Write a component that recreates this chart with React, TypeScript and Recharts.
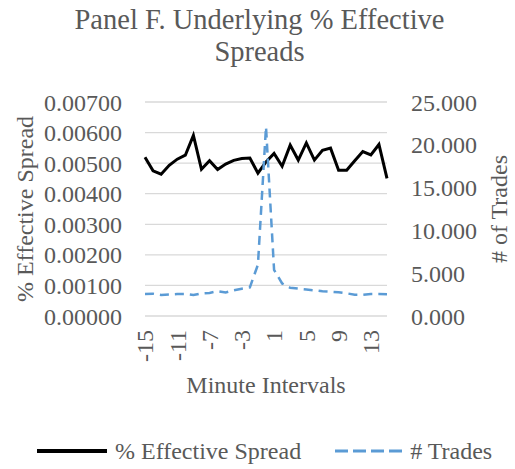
import React from "react";
import {
  CartesianGrid,
  Legend,
  Line,
  LineChart,
  XAxis,
  YAxis,
} from "recharts";

const minutes = [
  -15, -14, -13, -12, -11, -10, -9, -8, -7, -6, -5, -4, -3, -2, -1, 0, 1, 2, 3,
  4, 5, 6, 7, 8, 9, 10, 11, 12, 13, 14, 15,
];
const effectiveSpread = [
  0.00519, 0.00475, 0.00464, 0.00493, 0.00513, 0.00526, 0.00591, 0.0048,
  0.00508, 0.00479, 0.00497, 0.00509, 0.00515, 0.00517, 0.00467, 0.00504,
  0.00532, 0.0049, 0.00559, 0.0051, 0.00566, 0.0051, 0.00542, 0.00549, 0.00477,
  0.00477, 0.00508, 0.00538, 0.00527, 0.00561, 0.0045,
];
const trades = [
  2.57, 2.6, 2.45, 2.5, 2.57, 2.57, 2.45, 2.65, 2.7, 2.9, 2.75, 3.0, 3.19, 3.35,
  6.0, 22.1, 5.4, 3.8, 3.3, 3.2, 3.1, 3.0, 2.88, 2.84, 2.77, 2.65, 2.49, 2.49,
  2.57, 2.57, 2.53,
];
const xTicks = [-15, -11, -7, -3, 1, 5, 9, 13];
const leftTicks = [0, 0.001, 0.002, 0.003, 0.004, 0.005, 0.006, 0.007];
const rightTicks = [0, 5, 10, 15, 20, 25];

const data = minutes.map((m, i) => ({
  minute: m,
  spread: effectiveSpread[i],
  trades: trades[i],
}));

const font = "Liberation Serif";
const grey = "#595959";

const XTick = (props: any) => {
  const { x, y, payload } = props;
  const ty = y + 14;
  return (
    <text
      x={x}
      y={ty}
      dy="0.35em"
      transform={`rotate(-90 ${x} ${ty})`}
      textAnchor="end"
      fill={grey}
      fontSize={24}
      fontFamily={font}
    >
      {payload.value}
    </text>
  );
};

const LegendContent = (props: any) => {
  const { payload } = props;
  return (
    <div
      style={{
        display: "flex",
        alignItems: "center",
        paddingLeft: 37,
        height: 30,
        overflow: "hidden",
      }}
    >
      {(payload || []).map((entry: any, i: number) => {
        const dashed = entry.payload && entry.payload.strokeDasharray;
        return (
          <div
            key={i}
            style={{
              display: "flex",
              alignItems: "center",
              marginRight: i === 0 ? 34 : 0,
              whiteSpace: "nowrap",
              flexShrink: 0,
            }}
          >
            <svg width={dashed ? 67 : 70} height={10} style={{ marginRight: 8 }}>
              <line
                x1={0}
                y1={5}
                x2={dashed ? 67 : 70}
                y2={5}
                stroke={entry.color}
                strokeWidth={dashed ? 3 : 4}
                strokeDasharray={dashed ? "13 5" : undefined}
              />
            </svg>
            <span
              style={{
                fontFamily: font,
                fontSize: 24,
                color: grey,
                lineHeight: "30px",
              }}
            >
              {entry.value}
            </span>
          </div>
        );
      })}
    </div>
  );
};

const App = () => {
  return (
    <div
      style={{
        position: "absolute",
        left: 0,
        top: 0,
        width: 515,
        height: 469,
        background: "#fff",
      }}
    >
      <div
        style={{
          position: "absolute",
          left: 0,
          top: 3.5,
          width: 519,
          textAlign: "center",
          fontFamily: font,
          fontSize: 28.5,
          lineHeight: "32.4px",
          color: grey,
        }}
      >
        Panel F. Underlying % Effective
        <br />
        Spreads
      </div>
      <LineChart
        width={515}
        height={469}
        data={data}
        margin={{ top: 102, right: 0, bottom: 3, left: 0 }}
      >
        <CartesianGrid vertical={false} stroke="#d9d9d9" strokeWidth={1.3} />
        <XAxis
          dataKey="minute"
          type="number"
          domain={[-15, 15]}
          ticks={xTicks}
          interval={0}
          height={120}
          tickSize={0}
          tickMargin={0}
          axisLine={false}
          tickLine={false}
          tick={XTick}
          label={{
            value: "Minute Intervals",
            position: "insideTop",
            offset: 60,
            fill: grey,
            fontSize: 24,
            fontFamily: font,
          }}
        />
        <YAxis
          width={145}
          domain={[0, 0.007]}
          ticks={leftTicks}
          interval={0}
          tickFormatter={(v: number) => Number(v).toFixed(5)}
          axisLine={false}
          tickLine={false}
          tickSize={0}
          tickMargin={23}
          tick={{ fill: grey, fontSize: 24, fontFamily: font }}
          label={{
            value: "% Effective Spread",
            angle: -90,
            position: "insideLeft",
            offset: 24,
            fill: grey,
            fontSize: 24,
            fontFamily: font,
            style: { textAnchor: "middle" },
          }}
        />
        <YAxis
          yAxisId="right"
          orientation="right"
          width={128}
          domain={[0, 25]}
          ticks={rightTicks}
          interval={0}
          tickFormatter={(v: number) => Number(v).toFixed(3)}
          axisLine={false}
          tickLine={false}
          tickSize={0}
          tickMargin={24}
          tick={{ fill: grey, fontSize: 24, fontFamily: font }}
          label={{
            value: "# of Trades",
            angle: -90,
            position: "insideRight",
            offset: 17,
            fill: grey,
            fontSize: 24,
            fontFamily: font,
            style: { textAnchor: "middle" },
          }}
        />
        <Legend
          verticalAlign="bottom"
          align="left"
          height={30}
          itemSorter="dataKey"
          content={LegendContent}
          wrapperStyle={{ left: 0, bottom: 3, width: 515, height: 30 }}
        />
        <Line
          type="linear"
          dataKey="spread"
          name="% Effective Spread"
          stroke="#000000"
          strokeWidth={3}
          dot={false}
          isAnimationActive={false}
        />
        <Line
          yAxisId="right"
          type="linear"
          dataKey="trades"
          name="# Trades"
          stroke="#5b9bd5"
          strokeWidth={2.5}
          strokeDasharray="9 6"
          dot={false}
          isAnimationActive={false}
        />
      </LineChart>
    </div>
  );
};

export default App;
